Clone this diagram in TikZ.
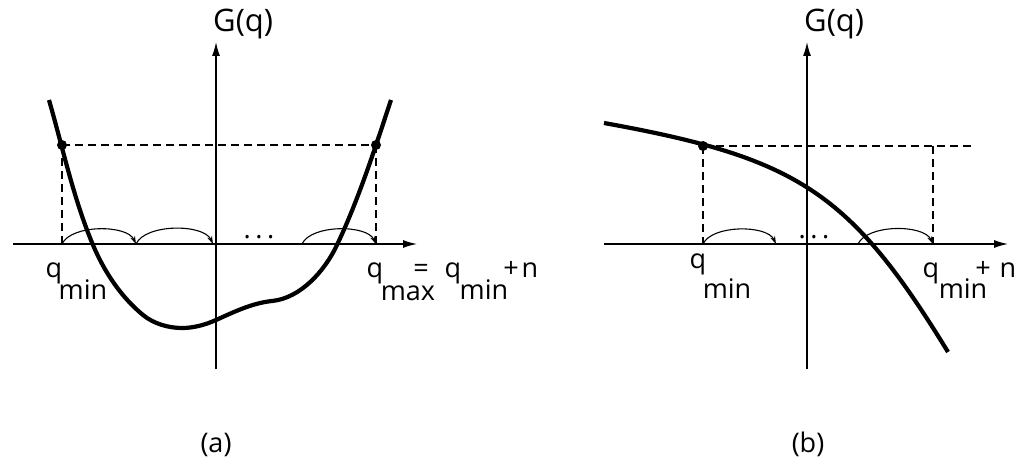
\documentclass[tikz,border=0pt]{standalone}
\usepackage{fontspec}
\setmainfont{Open Sans}
\usetikzlibrary{arrows.meta}
\tikzset{
  axis/.style={line width=1.3pt,-{Latex[length=14pt,width=8pt]}},
  guide/.style={line width=1.2pt,dash pattern=on 8pt off 5pt},
  hop/.style={line width=1.1pt,-{Stealth[length=8pt,width=5pt]}},
  curve/.style={line width=4.2pt,line join=round},
  dot/.style={circle,fill=black,inner sep=0pt,minimum size=10pt},
  lbl/.style={font=\fontsize{27}{30}\selectfont,inner sep=0pt,anchor=base},
  glbl/.style={font=\fontsize{31}{34}\selectfont,inner sep=0pt,anchor=base west},
}
\begin{document}
\begin{tikzpicture}[x=1pt,y=-1pt]
\useasboundingbox (0,0) rectangle (1024,468);
% ---------- panel (a) ----------
\coordinate (ax0) at (13,244);
\coordinate (ax1) at (417,244);
\coordinate (ay0) at (216,369);
\coordinate (ay1) at (216,42);
\draw[axis] (ax0) -- (ax1);
\draw[axis] (ay0) -- (ay1);
\node[glbl] (aG) at (213,32) {G(q)};
\coordinate (aL) at (62,145);
\coordinate (aR) at (376,145);
\coordinate (aLb) at (62,244);
\coordinate (aRb) at (376,244);
\coordinate (ah1) at (136,244);
\coordinate (ah2) at (213,244);
\coordinate (ah3) at (302,244);
\draw[guide] (aL) -- (aR);
\draw[guide] (aL) -- (aLb);
\draw[guide] (aR) -- (aRb);
\draw[hop] (aLb) to[out=65,in=115,looseness=0.75] (ah1);
\draw[hop] (ah1) to[out=65,in=115,looseness=0.75] (ah2);
\draw[hop] (ah3) to[out=65,in=115,looseness=0.75] (aRb);
\node[lbl] (adots) at (259,238) {.\,.\,.};
\draw[curve] (49,100) .. controls (63,148.5) and (73.4,198.5) .. (93,245)
  .. controls (104.1,271.4) and (120.8,296.8) .. (143,315)
  .. controls (153.6,323.7) and (168.3,328) .. (182,328)
  .. controls (193.7,328) and (205.3,324.8) .. (216,320)
  .. controls (234,311.9) and (252.4,303) .. (272,301)
  .. controls (300.5,298.2) and (324.8,270.9) .. (337,245)
  .. controls (359,198.4) and (374.7,149) .. (391,100);
\node[dot] (adL) at (aL) {};
\node[dot] (adR) at (aR) {};
\node[lbl] (aq1) at (54,277) {q};
\node[lbl] (aq1s) at (83,299) {min};
\node[lbl] (aq2) at (375,277) {q};
\node[lbl] (aq2s) at (408,300) {max};
\node[lbl] (aeq) at (421,277) {=};
\node[lbl] (aq3) at (453,277) {q};
\node[lbl] (aq3s) at (484,299) {min};
\node[lbl] (aplus) at (511,277) {+};
\node[lbl] (an) at (530,277) {n};
\node[lbl] (acap) at (216,452) {(a)};
% ---------- panel (b) ----------
\coordinate (bx0) at (604,244);
\coordinate (bx1) at (1008,244);
\coordinate (by0) at (807,369);
\coordinate (by1) at (807,42);
\draw[axis] (bx0) -- (bx1);
\draw[axis] (by0) -- (by1);
\node[glbl] (bG) at (804,32) {G(q)};
\coordinate (bL) at (703,146);
\coordinate (bR) at (933,146);
\coordinate (bE) at (975,146);
\coordinate (bLb) at (703,244);
\coordinate (bRb) at (933,244);
\coordinate (bh1) at (776,244);
\coordinate (bh2) at (858,244);
\draw[guide] (bL) -- (bE);
\draw[guide] (bL) -- (bLb);
\draw[guide] (bR) -- (bRb);
\draw[hop] (bLb) to[out=65,in=115,looseness=0.75] (bh1);
\draw[hop] (bh2) to[out=65,in=115,looseness=0.75] (bRb);
\node[lbl] (bdots) at (814,238) {.\,.\,.};
\coordinate (bc0) at (604,123);
\coordinate (bc3) at (948,352);
\draw[curve] (bc0) .. controls (798,158) and (850,192) .. (bc3);
\node[dot] (bdL) at (bL) {};
\node[lbl] (bq1) at (698,268) {q};
\node[lbl] (bq1s) at (727,298) {min};
\node[lbl] (bq2) at (931,277) {q};
\node[lbl] (bq2s) at (963,298) {min};
\node[lbl] (bplus) at (983,277) {+};
\node[lbl] (bn) at (1008,277) {n};
\node[lbl] (bcap) at (808,452) {(b)};
\end{tikzpicture}
\end{document}
